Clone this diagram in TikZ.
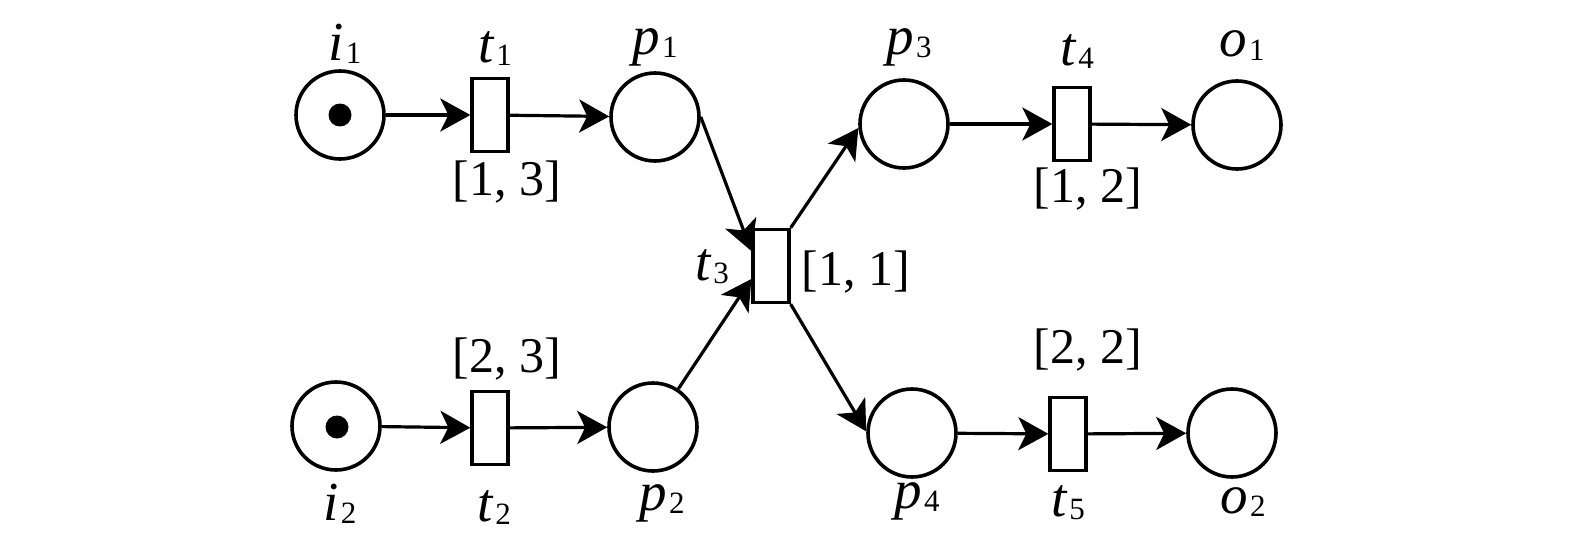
\documentclass[tikz,border=0pt]{standalone}
\usepackage{fontspec}
\setmainfont{Liberation Serif}
\usetikzlibrary{arrows.meta,calc}
\newcommand{\nm}[2]{\textit{#1}\kern2pt\raisebox{-3pt}{\fontsize{31}{31}\selectfont #2}}
\begin{document}
\begin{tikzpicture}[x=1pt,y=-1pt,
  place/.style={circle,draw,line width=3.6pt,minimum size=88pt,inner sep=0pt},
  trans/.style={rectangle,draw,line width=3.3pt,minimum width=36pt,minimum height=73pt,inner sep=0pt,fill=white},
  token/.style={circle,fill=black,minimum size=23pt,inner sep=0pt},
  lab/.style={anchor=base,inner sep=0pt,font=\fontsize{55}{55}\selectfont},
  rng/.style={anchor=base,inner sep=0pt,font=\fontsize{50}{50}\selectfont},
  arc/.style={line width=3.2pt,-{Stealth[length=30pt,width=33pt,inset=8pt]}}]
\useasboundingbox (0,0) rectangle (1575,535);
% places
\node[place] (i1) at (340,115) {};
\node[token] (k1) at (340,115) {};
\node[place] (p1) at (655,117) {};
\node[place] (i2) at (336,426) {};
\node[token] (k2) at (337,427) {};
\node[place] (p2) at (653,427) {};
\node[place] (p3) at (904,124) {};
\node[place] (o1) at (1237,125) {};
\node[place] (p4) at (912,433) {};
\node[place] (o2) at (1232,433) {};
% transitions
\node[trans] (t1) at (490,115) {};
\node[trans] (t2) at (490,428) {};
\node[trans] (t3) at (771,266) {};
\node[trans] (t4) at (1072,124) {};
\node[trans] (t5) at (1068,434) {};
% arcs
\draw[arc] (i1) -- (t1);
\draw[arc] (t1) -- (p1);
\draw[arc] (i2) -- (t2);
\draw[arc] (t2) -- (p2);
\coordinate (t3a) at ($(t3.west)+(0,-15)$);
\coordinate (t3b) at ($(t3.west)+(0,13)$);
\draw[arc] (p1.east) -- (t3a);
\draw[arc] (p2) -- (t3b);
\draw[arc] (t3.north east) -- (p3.185);
\draw[arc] (t3.south east) -- (p4.178);
\draw[arc] (p3) -- (t4);
\draw[arc] (t4) -- (o1);
\draw[arc] (p4) -- (t5);
\draw[arc] (t5) -- (o2);
% labels
\node[lab] (li1) at (345,60) {\nm{i}{1}};
\node[lab] (lt1) at (495,63) {\nm{t}{1}};
\node[lab] (lp1) at (655,55) {\nm{p}{1}};
\node[lab] (lp3) at (909,55) {\nm{p}{3}};
\node[lab] (lt4) at (1077,66) {\nm{t}{4}};
\node[lab] (lo1) at (1242,57) {\nm{o}{1}};
\node[lab] (li2) at (340,520) {\nm{i}{2}};
\node[lab] (lt2) at (494,521) {\nm{t}{2}};
\node[lab] (lp2) at (662,510) {\nm{p}{2}};
\node[lab] (lp4) at (917,508) {\nm{p}{4}};
\node[lab] (lt5) at (1068,516) {\nm{t}{5}};
\node[lab] (lo2) at (1243,513) {\nm{o}{2}};
\node[lab] (lt3) at (712,280) {\nm{t}{3}};
% time intervals
\node[rng] (r1) at (507,195) {[1, 3]};
\node[rng] (r2) at (507,372) {[2, 3]};
\node[rng] (r3) at (856,285) {[1, 1]};
\node[rng] (r4) at (1088,202) {[1, 2]};
\node[rng] (r5) at (1088,363) {[2, 2]};
\end{tikzpicture}
\end{document}
